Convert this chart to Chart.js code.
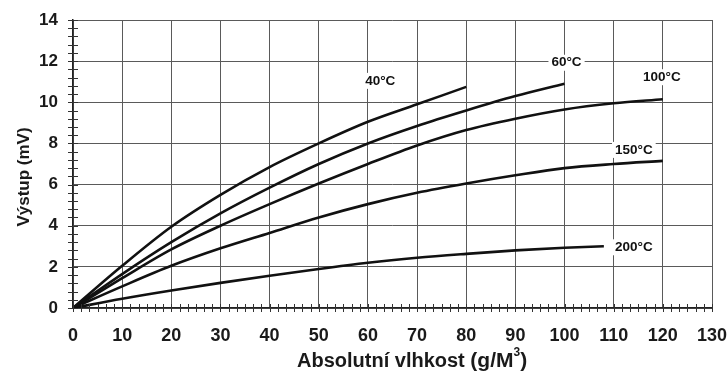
<!DOCTYPE html>
<html>
<head>
<meta charset="utf-8">
<script src="https://cdn.jsdelivr.net/npm/chart.js@4.4.1/dist/chart.umd.min.js"></script>
<style>
  html, body { margin: 0; padding: 0; background: #fff; }
</style>
</head>
<body>
<canvas id="chart" width="728" height="374"></canvas>
<script>
// Absolute humidity (g/m3) and sensor output (mV)
const humidity = [0, 10, 20, 30, 40, 50, 60, 70, 80, 90, 100, 110, 120];
const humidity200 = [0, 10, 20, 30, 40, 50, 60, 70, 80, 90, 100, 108];
const out40 = [0, 2.05, 3.95, 5.5, 6.85, 8.0, 9.05, 9.9, 10.75];
const out60 = [0, 1.65, 3.2, 4.6, 5.85, 7.0, 8.0, 8.85, 9.6, 10.3, 10.9];
const out100 = [0, 1.45, 2.85, 4.0, 5.05, 6.05, 7.0, 7.9, 8.65, 9.2, 9.65, 9.95, 10.15];
const out150 = [0, 1.05, 2.05, 2.9, 3.65, 4.4, 5.05, 5.6, 6.05, 6.45, 6.8, 7.0, 7.15];
const out200 = [0, 0.45, 0.85, 1.22, 1.57, 1.9, 2.2, 2.44, 2.63, 2.8, 2.93, 3.0];
const seriesLabels = ['40°C', '60°C', '100°C', '150°C', '200°C'];

const FONT = '"Liberation Sans", Arial, sans-serif';

function toPoints(xs, ys) {
  return ys.map((y, i) => ({ x: xs[i], y }));
}

// curve labels sit next to the end of each curve (pixel offsets)
const labelOffsets = [[-86, -6], [2, -21], [-1, -22], [-29, -11], [30, 1]];

const curveLabels = {
  id: 'curveLabels',
  afterDatasetsDraw(chart) {
    const ctx = chart.ctx;
    ctx.save();
    ctx.font = 'bold 13.5px ' + FONT;
    ctx.textAlign = 'center';
    ctx.textBaseline = 'middle';
    chart.data.datasets.forEach((ds, i) => {
      const pts = chart.getDatasetMeta(i).data;
      const last = pts[pts.length - 1];
      const x = last.x + labelOffsets[i][0];
      const y = last.y + labelOffsets[i][1];
      const w = ctx.measureText(ds.label).width;
      ctx.fillStyle = '#fff';
      ctx.fillRect(x - w / 2 - 3, y - 8, w + 6, 16);
      ctx.fillStyle = '#111';
      ctx.fillText(ds.label, x, y);
    });
    ctx.restore();
  },
};

// small tick marks along both axes plus the axis titles
const axisExtras = {
  id: 'axisExtras',
  afterDraw(chart) {
    const ctx = chart.ctx;
    const xs = chart.scales.x;
    const ys = chart.scales.y;
    const area = chart.chartArea;
    ctx.save();
    ctx.strokeStyle = '#333';
    ctx.lineWidth = 1;
    ctx.beginPath();
    for (let v = 0; v <= 14.001; v += 0.4) {
      const py = Math.round(ys.getPixelForValue(v)) + 0.5;
      ctx.moveTo(area.left - 5, py);
      ctx.lineTo(area.left + 5, py);
    }
    for (let v = 0; v <= 130.001; v += 10 / 6) {
      const px = Math.round(xs.getPixelForValue(v)) + 0.5;
      ctx.moveTo(px, area.bottom - 4);
      ctx.lineTo(px, area.bottom + 4);
    }
    ctx.stroke();

    ctx.fillStyle = '#1a1a1a';
    // y title
    ctx.save();
    ctx.translate(24, 177);
    ctx.rotate(-Math.PI / 2);
    ctx.font = 'bold 17px ' + FONT;
    ctx.textAlign = 'center';
    ctx.textBaseline = 'middle';
    ctx.fillText('Výstup (mV)', 0, 0);
    ctx.restore();

    // x title: plain part + larger unit part
    const part1 = 'Absolutní vlhkost ';
    const part2 = '(g/M';
    const part3 = ')';
    ctx.textBaseline = 'alphabetic';
    ctx.textAlign = 'left';
    let x0 = area.left + 224;
    const base = 367;
    ctx.font = 'bold 20px ' + FONT;
    ctx.fillText(part1, x0, base);
    x0 += ctx.measureText(part1).width;
    ctx.font = 'bold 21px ' + FONT;
    ctx.fillText(part2, x0, base);
    x0 += ctx.measureText(part2).width;
    ctx.font = 'bold 12px ' + FONT;
    ctx.fillText('3', x0, base - 11);
    x0 += ctx.measureText('3').width;
    ctx.font = 'bold 21px ' + FONT;
    ctx.fillText(part3, x0, base);
    ctx.restore();
  },
};

const lineStyle = {
  borderColor: '#111',
  borderWidth: 2.6,
  pointRadius: 0,
  fill: false,
  cubicInterpolationMode: 'monotone',
};

new Chart(document.getElementById('chart'), {
  type: 'line',
  data: {
    datasets: [
      { label: seriesLabels[0], data: toPoints(humidity, out40), ...lineStyle },
      { label: seriesLabels[1], data: toPoints(humidity, out60), ...lineStyle },
      { label: seriesLabels[2], data: toPoints(humidity, out100), ...lineStyle },
      { label: seriesLabels[3], data: toPoints(humidity, out150), ...lineStyle },
      { label: seriesLabels[4], data: toPoints(humidity200, out200), ...lineStyle },
    ],
  },
  options: {
    responsive: false,
    animation: false,
    layout: { padding: { top: 20, right: 16, left: 0, bottom: 0 } },
    plugins: {
      legend: { display: false },
      tooltip: { enabled: false },
    },
    scales: {
      x: {
        type: 'linear',
        min: 0,
        max: 130,
        afterFit: (scale) => {
          scale.height = 66;
          scale.paddingLeft = 0;
          scale.paddingRight = 0;
        },
        ticks: {
          stepSize: 10,
          padding: 17,
          color: '#1a1a1a',
          font: { family: FONT, size: 18, weight: 'bold' },
        },
        grid: { color: '#5a5a5a', lineWidth: 1, drawTicks: false },
        border: { color: '#222', width: 1.5 },
      },
      y: {
        min: 0,
        max: 14,
        afterFit: (scale) => {
          scale.width = 73;
          scale.paddingTop = 0;
          scale.paddingBottom = 0;
        },
        ticks: {
          stepSize: 2,
          padding: 15,
          color: '#1a1a1a',
          font: { family: FONT, size: 17, weight: 'bold' },
        },
        grid: { color: '#5a5a5a', lineWidth: 1, drawTicks: false },
        border: { color: '#222', width: 1.5 },
      },
    },
  },
  plugins: [curveLabels, axisExtras],
});
</script>
</body>
</html>
